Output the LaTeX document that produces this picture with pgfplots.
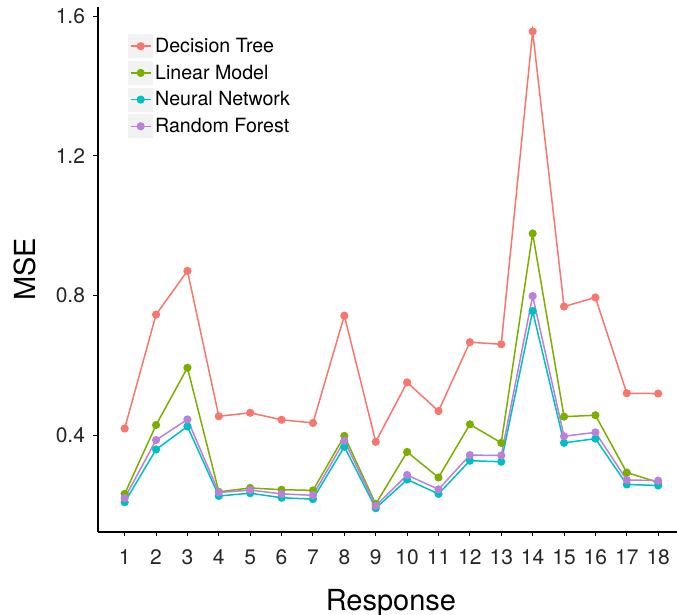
\documentclass[border=0pt]{standalone}
\usepackage{fontspec}
\setmainfont{TeX Gyre Heros}
\usepackage{pgfplots}
\usepackage{pgfplotstable}
\pgfplotsset{compat=1.18}
\definecolor{cDT}{HTML}{F8766D}
\definecolor{cLM}{HTML}{7CAE00}
\definecolor{cNN}{HTML}{00BFC4}
\definecolor{cRF}{HTML}{BA80DA}
\pgfplotstableread{
x DT LM NN RF
1 0.420 0.233 0.209 0.221
2 0.746 0.430 0.360 0.387
3 0.871 0.594 0.426 0.446
4 0.455 0.239 0.227 0.237
5 0.465 0.250 0.235 0.244
6 0.445 0.245 0.222 0.233
7 0.436 0.243 0.218 0.229
8 0.743 0.399 0.368 0.385
9 0.382 0.204 0.192 0.199
10 0.552 0.353 0.274 0.287
11 0.470 0.280 0.233 0.246
12 0.667 0.432 0.328 0.344
13 0.661 0.379 0.325 0.343
14 1.556 0.978 0.756 0.799
15 0.769 0.454 0.379 0.398
16 0.795 0.458 0.391 0.409
17 0.521 0.294 0.260 0.273
18 0.520 0.266 0.257 0.271
}\datatable
\begin{document}
\begin{tikzpicture}
\useasboundingbox (-98pt,-83pt) rectangle (579pt,532pt);
\begin{axis}[
  at={(0pt,0pt)}, anchor=south west,
  scale only axis, width=579pt, height=525pt,
  xmin=0.15, xmax=18.6, ymin=0.124, ymax=1.626,
  axis x line*=bottom, axis y line*=left,
  axis line style={line width=1.1pt, black},
  xtick={1,...,18}, ytick={0.4,0.8,1.2,1.6},
  tick align=outside, major tick length=4.5pt,
  tick style={line width=1pt, black},
  ticklabel style={font=\fontsize{21}{21}\selectfont, text=black!85},
  xticklabel style={yshift=-10pt},
  yticklabel style={xshift=-5pt},
  /pgf/number format/assume math mode=true,
  yticklabel style={/pgf/number format/fixed, /pgf/number format/fixed zerofill, /pgf/number format/precision=1},
  xlabel=Response, ylabel=MSE,
  label style={font=\fontsize{29}{29}\selectfont},
  xlabel style={at={(axis description cs:0.506,-0.1486)}, anchor=base},
  ylabel style={at={(axis description cs:-0.1088,0.5)}, anchor=base, rotate=0},
  every axis plot/.append style={line width=1.5pt, mark=*, mark size=3.3pt},
  legend style={at={(0,1)}, anchor=north west, xshift=30pt, yshift=-27pt,
    draw=none, fill=none, font=\fontsize{19.6}{19.6}\selectfont,
    row sep=2.7pt, inner sep=0pt, column sep=0pt,
    cells={anchor=west}},
  legend image code/.code={
    \fill[black!5, draw=none] (0pt,-12pt) rectangle (25pt,12pt);
    \draw[#1, mark repeat=2, mark phase=2] plot coordinates {(2.5pt,0pt) (12.5pt,0pt) (22.5pt,0pt)};
  },
]
\addplot[color=cDT] table[x=x, y=DT] {\datatable};
\addlegendentry{Decision Tree}
\addplot[color=cLM] table[x=x, y=LM] {\datatable};
\addlegendentry{Linear Model}
\addplot[color=cNN] table[x=x, y=NN] {\datatable};
\addlegendentry{Neural Network}
\addplot[color=cRF] table[x=x, y=RF] {\datatable};
\addlegendentry{Random Forest}
\end{axis}
\end{tikzpicture}
\end{document}
